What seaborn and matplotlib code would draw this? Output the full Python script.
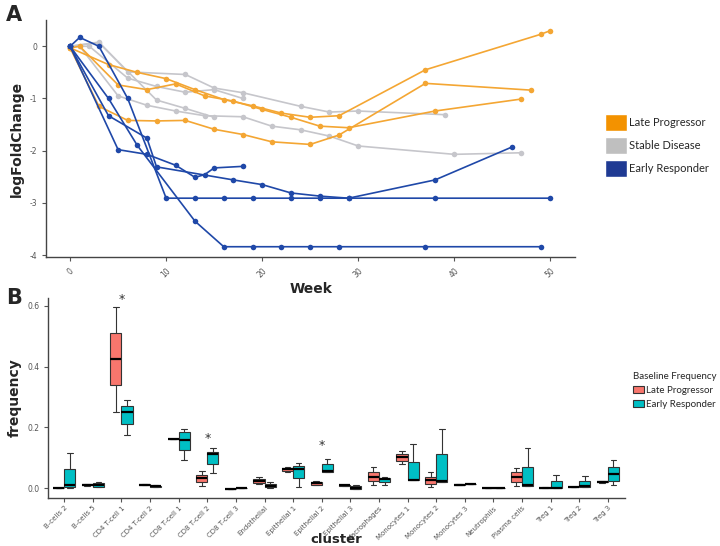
import numpy as np
import pandas as pd
import matplotlib.pyplot as plt
import matplotlib.patches as mpatches
import seaborn as sns

# ---- panel A: logFoldChange per patient over weeks ----
late_weeks = [[0, 4, 7, 10, 13, 16, 19, 22, 25, 28, 37, 49, 50],
              [0, 1, 5, 8, 11, 14, 17, 20, 23, 26, 29, 38, 47],
              [0, 3, 6, 9, 12, 15, 18, 21, 25, 28, 37, 48]]
late_vals = [[-0.03, -0.35, -0.5, -0.62, -0.83, -1.02, -1.14, -1.28, -1.36, -1.33, -0.45, 0.23, 0.3],
             [-0.03, 0.0, -0.74, -0.83, -0.72, -0.95, -1.05, -1.21, -1.36, -1.53, -1.56, -1.24, -1.01],
             [-0.03, -1.15, -1.42, -1.43, -1.42, -1.59, -1.69, -1.83, -1.88, -1.70, -0.71, -0.84]]

stable_weeks = [[0, 3, 6, 12, 15, 18, 24, 27, 30, 39],
                [0, 1, 5, 8, 11, 14, 18, 21, 24, 27, 30, 40, 47],
                [0, 2, 6, 9, 12, 15, 18],
                [0, 3, 9, 12, 15]]
stable_vals = [[0, 0.08, -0.49, -0.54, -0.8, -0.89, -1.15, -1.26, -1.24, -1.31],
               [0, 0, -0.95, -1.13, -1.24, -1.33, -1.35, -1.53, -1.6, -1.72, -1.91, -2.07, -2.04],
               [0, 0, -0.61, -0.77, -0.88, -0.83, -1.0],
               [0, 0.07, -1.03, -1.19, -1.36]]

early_weeks = [[0, 1, 3, 6, 10, 13, 16, 19, 23, 26, 29, 38, 50],
               [0, 5, 8, 11, 13, 14, 15, 18],
               [0, 4, 8, 9, 17, 20, 23, 26, 29, 38, 46],
               [0, 4, 7, 13, 16, 19, 22, 25, 28, 37, 49]]
early_vals = [[0, 0.17, 0, -1.0, -2.91, -2.91, -2.91, -2.91, -2.91, -2.91, -2.91, -2.91, -2.91],
              [0, -1.98, -2.07, -2.28, -2.51, -2.46, -2.33, -2.3],
              [0, -1.33, -1.76, -2.31, -2.56, -2.65, -2.81, -2.87, -2.91, -2.56, -1.93],
              [0, -1.0, -1.9, -3.35, -3.84, -3.84, -3.84, -3.84, -3.84, -3.84, -3.84]]

# ---- panel B: baseline frequency per cluster ([min, q1, median, q3, max]) ----
clusters = ["B-cells 2", "B-cells 5", "CD4 T-cell 1", "CD4 T-cell 2", "CD8 T-cell 1",
            "CD8 T-cell 2", "CD8 T-cell 3", "Endothelial", "Epithelial 1", "Epithelial 2",
            "Epithelial 3", "Macrophages", "Monocytes 1", "Monocytes 2", "Monocytes 3",
            "Neutrophils", "Plasma cells", "Treg 1", "Treg 2", "Treg 3"]
late_freq = [[0, 0, 0, 0.001, 0.001],
             [0.008, 0.010, 0.012, 0.014, 0.015],
             [0.252, 0.338, 0.425, 0.51, 0.595],
             [0.009, 0.010, 0.012, 0.013, 0.014],
             [0.163, 0.163, 0.163, 0.163, 0.163],
             [0.008, 0.02, 0.033, 0.045, 0.055],
             [-0.001, -0.001, -0.001, -0.001, -0.001],
             [0.013, 0.016, 0.024, 0.031, 0.036],
             [0.054, 0.056, 0.0625, 0.068, 0.071],
             [0.009, 0.012, 0.016, 0.022, 0.024],
             [0.008, 0.008, 0.009, 0.010, 0.010],
             [0.009, 0.023, 0.038, 0.053, 0.069],
             [0.08, 0.09, 0.102, 0.114, 0.124],
             [0.004, 0.015, 0.027, 0.038, 0.052],
             [0.010, 0.010, 0.011, 0.013, 0.013],
             [0, 0, 0, 0, 0],
             [0.008, 0.022, 0.036, 0.052, 0.066],
             [0.001, 0.001, 0.002, 0.002, 0.003],
             [0.003, 0.003, 0.004, 0.005, 0.005],
             [0.018, 0.019, 0.021, 0.025, 0.025]]
early_freq = [[0, 0.003, 0.009, 0.063, 0.115],
              [0.003, 0.004, 0.009, 0.016, 0.022],
              [0.175, 0.212, 0.251, 0.271, 0.291],
              [0.003, 0.004, 0.006, 0.008, 0.009],
              [0.093, 0.126, 0.158, 0.185, 0.196],
              [0.049, 0.080, 0.113, 0.120, 0.131],
              [0.001, 0.001, 0.001, 0.001, 0.001],
              [0.0, 0.003, 0.007, 0.013, 0.021],
              [0.005, 0.032, 0.0625, 0.073, 0.084],
              [0.054, 0.054, 0.057, 0.079, 0.095],
              [-0.002, -0.002, 0.002, 0.007, 0.010],
              [0.010, 0.020, 0.030, 0.034, 0.038],
              [0.027, 0.027, 0.027, 0.087, 0.146],
              [0.020, 0.021, 0.024, 0.112, 0.195],
              [0.015, 0.015, 0.015, 0.015, 0.015],
              [0, 0, 0, 0, 0],
              [0.007, 0.007, 0.010, 0.071, 0.133],
              [0, 0, 0.001, 0.023, 0.045],
              [0.003, 0.004, 0.008, 0.024, 0.039],
              [0.009, 0.025, 0.047, 0.069, 0.093]]
star_clusters = ["CD4 T-cell 1", "CD8 T-cell 2", "Epithelial 2"]
star_y = [0.62, 0.165, 0.14]

# build long tables
rows = []
for group, wk, vl in [("Stable Disease", stable_weeks, stable_vals),
                      ("Late Progressor", late_weeks, late_vals),
                      ("Early Responder", early_weeks, early_vals)]:
    for i, (w, v) in enumerate(zip(wk, vl)):
        for a, b in zip(w, v):
            rows.append({"Week": a, "logFoldChange": b, "patient": f"{group}{i}", "group": group})
lines = pd.DataFrame(rows)

rows = []
for group, data in [("Late Progressor", late_freq), ("Early Responder", early_freq)]:
    for c, vals in zip(clusters, data):
        for v in vals:
            rows.append({"cluster": c, "frequency": v, "group": group})
freq = pd.DataFrame(rows)

line_colors = {"Late Progressor": "#F4A633", "Stable Disease": "#C6C6CB", "Early Responder": "#1F48A8"}
legend_colors = {"Late Progressor": "#F39200", "Stable Disease": "#BFBFBF", "Early Responder": "#1F3A93"}
box_colors = {"Late Progressor": "#F8766D", "Early Responder": "#00BFC4"}

sns.set_style("ticks")
plt.rcParams["axes.unicode_minus"] = False
plt.rcParams["font.family"] = ["DejaVu Sans"]

fig = plt.figure(figsize=(7.2, 5.46), dpi=100)
axA = fig.add_axes([0.064, 0.529, 0.735, 0.434])
axB = fig.add_axes([0.067, 0.088, 0.801, 0.366])

# panel A
for g in ["Stable Disease", "Late Progressor", "Early Responder"]:
    sns.lineplot(data=lines[lines.group == g], x="Week", y="logFoldChange", units="patient",
                 estimator=None, sort=False, color=line_colors[g], marker="o", markersize=4,
                 markeredgewidth=0, linewidth=1.2, ax=axA, legend=False)
axA.set_xlim(-2.5, 52.6)
axA.set_ylim(-4.04, 0.5)
axA.set_xticks([0, 10, 20, 30, 40, 50])
axA.set_yticks([0, -1, -2, -3, -4])
axA.set_xlabel("Week", fontsize=10, fontweight="bold", labelpad=2)
axA.set_ylabel("logFoldChange", fontsize=10, fontweight="bold")
axA.tick_params(axis="x", labelrotation=45, labelsize=5.5, labelcolor="#555555", color="#555555", length=3)
axA.tick_params(axis="y", labelsize=5.5, labelcolor="#555555", color="#555555", length=3)
handles = [mpatches.Patch(facecolor=legend_colors[g], edgecolor="white", label=g)
           for g in ["Late Progressor", "Stable Disease", "Early Responder"]]
fig.legend(handles=handles, loc="upper left", bbox_to_anchor=(0.840, 0.792), frameon=False,
           prop={"family": "Lato", "size": 8}, handlelength=2.0, handleheight=2.0,
           labelspacing=0.55, handletextpad=0.2, borderaxespad=0, borderpad=0)

# panel B
sns.boxplot(data=freq, x="cluster", y="frequency", hue="group", order=clusters,
            hue_order=["Late Progressor", "Early Responder"], palette=box_colors, saturation=1,
            width=0.78, linewidth=0.8, linecolor="#333333", fliersize=0, whis=1.5,
            medianprops={"color": "black", "linewidth": 1.6}, ax=axB)
for c, y in zip(star_clusters, star_y):
    axB.text(clusters.index(c), y, "*", ha="center", va="center", fontsize=9, color="#333333")
axB.set_xlim(-0.56, 19.6)
axB.set_ylim(-0.032, 0.625)
axB.set_yticks([0, 0.2, 0.4, 0.6])
axB.set_yticklabels(["0.0", "0.2", "0.4", "0.6"])
axB.set_xlabel("cluster", fontsize=9.5, fontweight="bold", va="center")
axB.xaxis.set_label_coords(0.5, -0.21)
axB.set_ylabel("frequency", fontsize=10, fontweight="bold")
axB.tick_params(axis="x", labelsize=5, labelcolor="#555555", color="#555555", length=3, pad=2)
axB.tick_params(axis="y", labelsize=5.5, labelcolor="#555555", color="#555555", length=3)
plt.setp(axB.get_xticklabels(), rotation=45, ha="right", rotation_mode="anchor")
leg = axB.legend(loc="upper left", bbox_to_anchor=(0.879, 0.318), bbox_transform=fig.transFigure,
                 title="Baseline Frequency", frameon=False, prop={"family": "Lato", "size": 7},
                 handlelength=1.1, handletextpad=0.2, alignment="left", borderaxespad=0, borderpad=0)
leg.get_title().set_family("Lato")
leg.get_title().set_fontsize(7)

for ax in (axA, axB):
    sns.despine(ax=ax)
    for s in ("left", "bottom"):
        ax.spines[s].set_color("#444444")
        ax.spines[s].set_linewidth(1.0)

fig.text(0.008, 0.972, "A", fontsize=15, fontweight="bold", va="center")
fig.text(0.008, 0.455, "B", fontsize=15, fontweight="bold", va="center")

plt.savefig("out.png", dpi=100)
